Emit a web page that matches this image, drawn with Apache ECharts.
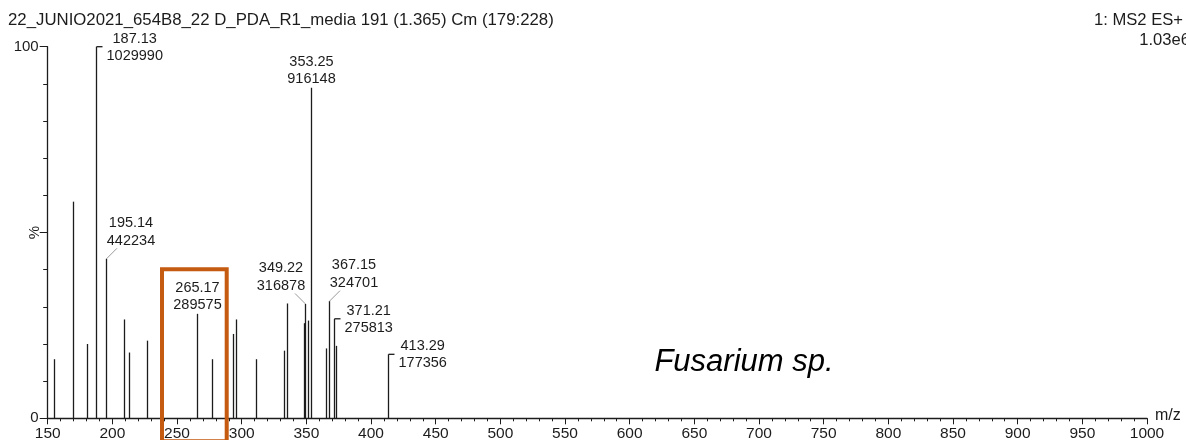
<!DOCTYPE html>
<html>
<head>
<meta charset="utf-8">
<script src="https://cdn.jsdelivr.net/npm/echarts@6/dist/echarts.min.js"></script>
<style>
  html, body { margin: 0; padding: 0; background: #ffffff; }
  #chart { width: 1186px; height: 440px; }
</style>
</head>
<body>
<div id="chart"></div>
<script>
// ---- text ----
const titleText = '22_JUNIO2021_654B8_22 D_PDA_R1_media 191 (1.365) Cm (179:228)';
const scanText = '1: MS2 ES+';
const fullScaleText = '1.03e6';
const speciesText = 'Fusarium sp.';
const xAxisName = 'm/z';
const yAxisName = '%';

// ---- axes ----
const mzMin = 150, mzMax = 1000, mzStep = 50;
const pctMin = 0, pctMax = 100;
const yTickLabels = ['0', '100'];

// base peak intensity (100 %)
const basePeakIntensity = 1029990;

// unlabeled peaks: m/z and relative abundance (%)
const peakMz  = [155.0, 169.3, 180.6, 208.8, 212.6, 226.8, 277.1, 293.1, 295.4, 310.9, 332.8, 334.8, 348.2, 351.3, 365.5, 373.2];
const peakPct = [15.9, 58.3, 20.0, 26.6, 17.7, 20.9, 15.9, 22.7, 26.6, 15.9, 18.2, 30.9, 25.6, 26.3, 18.8, 19.5];

// labeled peaks: m/z and absolute intensity
const labelMz        = [187.13, 195.14, 265.17, 349.22, 353.25, 367.15, 371.21, 413.29];
const labelIntensity = [1029990, 442234, 289575, 316878, 916148, 324701, 275813, 177356];

// how each annotated peak carries its label
const labelKind = {
  '187.13': 'bracket', '195.14': 'leaderRight', '265.17': 'above', '349.22': 'leaderLeft',
  '353.25': 'above', '367.15': 'leaderRight', '371.21': 'bracket', '413.29': 'bracket'
};

const FONT_FAMILY = '"Liberation Sans", Arial, Helvetica, sans-serif';
const INK = '#1c1c1c';
const LABEL_SIZE = 14.5;

const measureCtx = document.createElement('canvas').getContext('2d');
function textWidth(str, size) {
  measureCtx.font = size + 'px ' + FONT_FAMILY;
  return measureCtx.measureText(str).width;
}

// build series data: [m/z, %, label index or -1]
const peakData = [];
peakMz.forEach((mz, i) => peakData.push([mz, peakPct[i], -1]));
labelMz.forEach((mz, i) => peakData.push([mz, labelIntensity[i] / basePeakIntensity * 100, i]));

function textEl(str, x, y, align) {
  return {
    type: 'text', x: x, y: y, silent: true,
    style: {
      text: str, fill: INK, align: align || 'center', verticalAlign: 'middle',
      fontSize: LABEL_SIZE, fontFamily: FONT_FAMILY
    }
  };
}

function renderPeak(params, api) {
  const mz = api.value(0), pct = api.value(1), li = api.value(2);
  const base = api.coord([mz, 0]);
  const top = api.coord([mz, pct]);
  const px = Math.round(base[0]) + 0.5;
  const py = top[1];
  const children = [{
    type: 'line', silent: true,
    shape: { x1: px, y1: base[1], x2: px, y2: py },
    style: { stroke: INK, lineWidth: 1.3 }
  }];
  if (li >= 0) {
    const l1 = labelMz[li].toFixed(2);
    const l2 = String(labelIntensity[li]);
    const kind = labelKind[l1];
    if (kind === 'bracket') {
      const w2 = textWidth(l2, LABEL_SIZE);
      const cx = px + 10 + w2 / 2;
      children.push({
        type: 'line', silent: true,
        shape: { x1: px, y1: py, x2: px + 6, y2: py },
        style: { stroke: INK, lineWidth: 1.3 }
      });
      children.push(textEl(l1, cx, py - 8));
      children.push(textEl(l2, cx, py + 9));
    } else if (kind === 'above') {
      children.push(textEl(l1, px, py - 26));
      children.push(textEl(l2, px, py - 8.5));
    } else {
      const dir = kind === 'leaderRight' ? 1 : -1;
      children.push({
        type: 'line', silent: true,
        shape: { x1: px, y1: py, x2: px + dir * 10.5, y2: py - 10.5 },
        style: { stroke: '#9a9a9a', lineWidth: 1 }
      });
      children.push(textEl(l1, px + dir * 24.5, py - 36));
      children.push(textEl(l2, px + dir * 24.5, py - 18));
    }
  }
  return { type: 'group', children: children };
}

const chart = echarts.init(document.getElementById('chart'), null, { renderer: 'canvas' });

chart.setOption({
  animation: false,
  backgroundColor: '#ffffff',
  grid: { left: 47.7, right: 39, top: 46.7, bottom: 21.7, containLabel: false, outerBoundsMode: 'none' },
  xAxis: {
    type: 'value', min: mzMin, max: mzMax, interval: mzStep,
    axisLine: { lineStyle: { color: INK, width: 1.3 } },
    axisTick: { show: true, length: 6, lineStyle: { color: INK, width: 1 } },
    minorTick: { show: true, splitNumber: 5, length: 3, lineStyle: { color: INK, width: 1 } },
    axisLabel: { color: INK, fontSize: 15.5, fontFamily: FONT_FAMILY, margin: 7, formatter: v => String(v) },
    splitLine: { show: false }
  },
  yAxis: {
    type: 'value', min: pctMin, max: pctMax, interval: 50,
    axisLine: { show: true, lineStyle: { color: INK, width: 1.3 } },
    axisTick: { show: true, length: 8, lineStyle: { color: INK, width: 1 } },
    minorTick: { show: true, splitNumber: 5, length: 4.5, lineStyle: { color: INK, width: 1 } },
    axisLabel: {
      color: INK, fontSize: 15, fontFamily: FONT_FAMILY, margin: 9,
      formatter: v => (v === pctMin ? yTickLabels[0] : v === pctMax ? yTickLabels[1] : '')
    },
    splitLine: { show: false }
  },
  graphic: [
    { type: 'text', x: 8, y: 20, silent: true,
      style: { text: titleText, fill: INK, fontSize: 16.8, fontFamily: FONT_FAMILY, align: 'left', verticalAlign: 'middle' } },
    { type: 'text', x: 1183, y: 20, silent: true,
      style: { text: scanText, fill: INK, fontSize: 16.6, fontFamily: FONT_FAMILY, align: 'right', verticalAlign: 'middle' } },
    { type: 'text', x: 1190, y: 40, silent: true,
      style: { text: fullScaleText, fill: INK, fontSize: 16.6, fontFamily: FONT_FAMILY, align: 'right', verticalAlign: 'middle' } },
    { type: 'text', x: 1155, y: 416, silent: true,
      style: { text: xAxisName, fill: INK, fontSize: 16, fontFamily: FONT_FAMILY, align: 'left', verticalAlign: 'middle' } },
    { type: 'text', x: 35, y: 232.5, rotation: Math.PI / 2, silent: true,
      style: { text: yAxisName, fill: INK, fontSize: 15, fontFamily: FONT_FAMILY, align: 'center', verticalAlign: 'middle' } },
    { type: 'text', x: 744, y: 362, silent: true,
      style: { text: speciesText, fill: '#000000', fontSize: 31, fontStyle: 'italic', fontFamily: FONT_FAMILY, align: 'center', verticalAlign: 'middle' } },
    { type: 'rect', silent: true, z: 10,
      shape: { x: 162, y: 269.3, width: 64.7, height: 172 },
      style: { fill: 'none', stroke: '#C55A11', lineWidth: 4 } }
  ],
  series: [{
    type: 'custom',
    coordinateSystem: 'cartesian2d',
    clip: false,
    renderItem: renderPeak,
    encode: { x: 0, y: 1 },
    data: peakData
  }]
});
</script>
</body>
</html>
